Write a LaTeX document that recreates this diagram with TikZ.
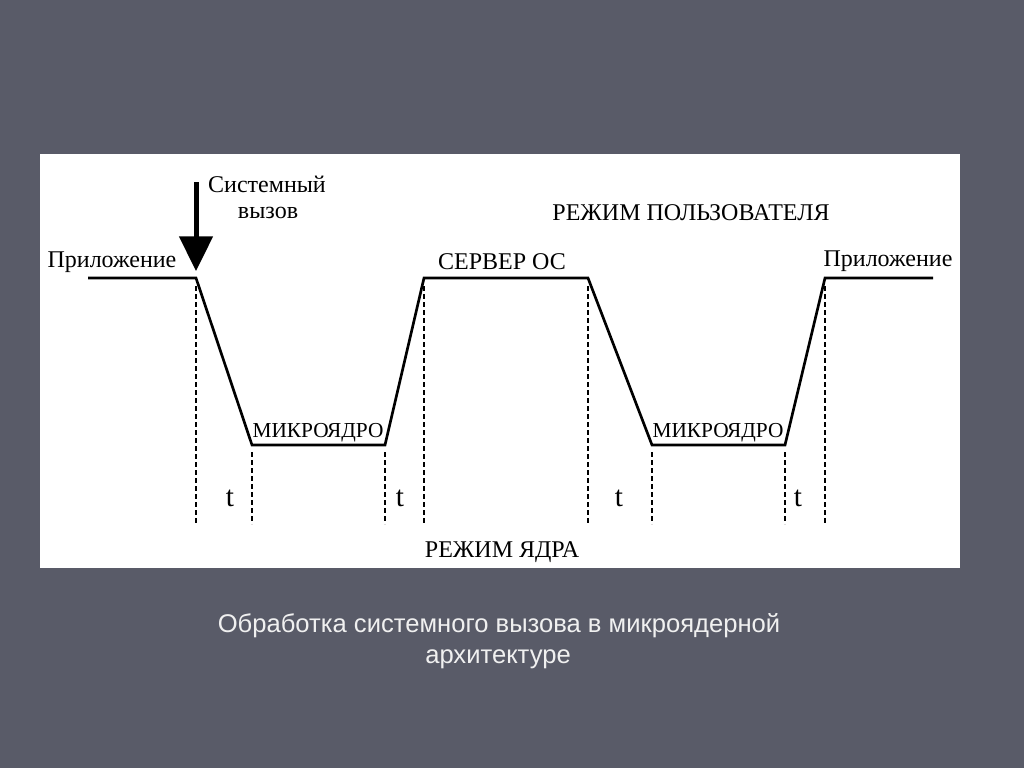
\documentclass[tikz,border=0pt]{standalone}
\usepackage{fontspec}
\setmainfont{Liberation Serif}
\newfontfamily\capfont{Liberation Sans}
\usetikzlibrary{arrows.meta}
\definecolor{slide}{HTML}{595B68}
\definecolor{captxt}{HTML}{F0F0F0}

\begin{document}
\begin{tikzpicture}[x=0.75pt, y=-0.75pt,
        lbl/.style={inner sep=0pt, anchor=base, font=\fontsize{18}{20}\selectfont},
        kern/.style={inner sep=0pt, anchor=base, font=\fontsize{16}{18}\selectfont},
        tlbl/.style={inner sep=0pt, anchor=base, font=\fontsize{22}{24}\selectfont},
        captext/.style={inner sep=0pt, anchor=base, text=captxt, font=\capfont\fontsize{19.2}{22}\selectfont},
        wave/.style={line width=2pt, line join=miter},
        guide/.style={line width=1.1pt, dash pattern=on 3.75pt off 2.25pt}]
        \useasboundingbox (0,0) rectangle (1024,768);
        \fill[slide] (0,0) rectangle (1024,768);
        \fill[white] (40,154) rectangle (960,568);

        % corners of the curve
        \coordinate (a0) at (88,278);
        \coordinate (a1) at (196,278);
        \coordinate (k1) at (252,445);
        \coordinate (k2) at (385,445);
        \coordinate (s1) at (424,278);
        \coordinate (s2) at (588,278);
        \coordinate (k3) at (652,445);
        \coordinate (k4) at (785,445);
        \coordinate (a2) at (825,278);
        \coordinate (a3) at (933,278);

        \draw[wave] (a0) -- (a1) -- (k1) -- (k2) -- (s1) -- (s2) -- (k3) -- (k4) -- (a2) -- (a3);

        % dashed guides
        \draw[guide] (196,286) -- (196,524);
        \draw[guide] (252,452) -- (252,524);
        \draw[guide] (385,452) -- (385,524);
        \draw[guide] (424,286) -- (424,524);
        \draw[guide] (588,286) -- (588,524);
        \draw[guide] (652,452) -- (652,524);
        \draw[guide] (785,452) -- (785,524);
        \draw[guide] (825,286) -- (825,524);

        % system call
        \coordinate (c0) at (196,182);
        \coordinate (c1) at (196,271);
        \draw[line width=3.75pt, -{Triangle[width=24.75pt, length=26pt]}] (c0) -- (c1);

        \node[lbl] (sys) at (267,192) {Системный};
        \node[lbl] (call) at (268,218) {вызов};
        \node[lbl] (app1) at (112,267) {Приложение};
        \node[lbl] (srv) at (502,269) {СЕРВЕР ОС};
        \node[lbl] (app2) at (888,266) {Приложение};
        \node[lbl] (user) at (691,220) {РЕЖИМ ПОЛЬЗОВАТЕЛЯ};
        \node[kern] (mk1) at (318,437) {МИКРОЯДРО};
        \node[kern] (mk2) at (718,437) {МИКРОЯДРО};
        \node[lbl] (kmode) at (502,557) {РЕЖИМ ЯДРА};

        \node[tlbl] (t1) at (230,506) {t};
        \node[tlbl] (t2) at (400,506) {t};
        \node[tlbl] (t3) at (619,506) {t};
        \node[tlbl] (t4) at (798,506) {t};

        \node[captext] (cap1) at (499,632) {Обработка системного вызова в микроядерной};
        \node[captext] (cap2) at (498,663) {архитектуре};

    \end{tikzpicture}
\end{document}
